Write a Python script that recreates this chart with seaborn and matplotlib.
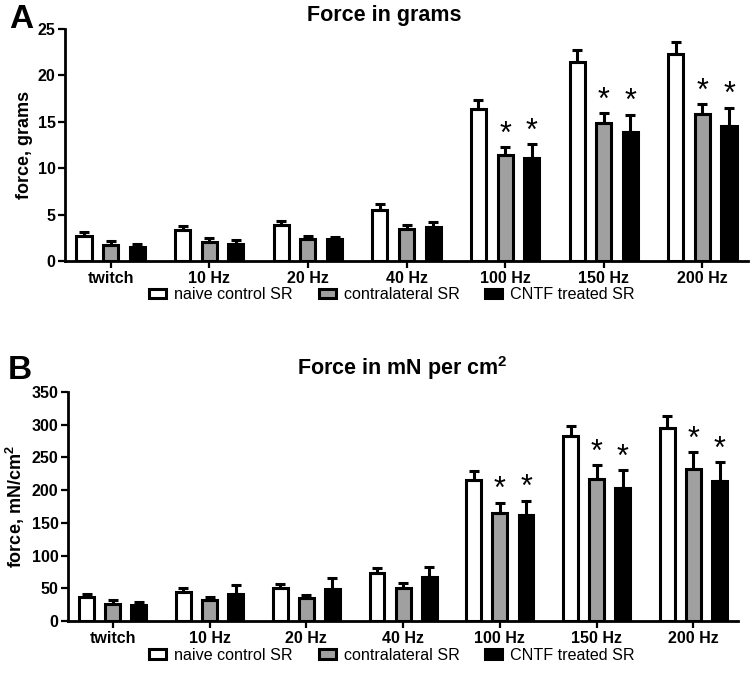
import pandas as pd
import seaborn as sns
import matplotlib.pyplot as plt

# Data (means and upper error bar tops)
freqs = ["twitch", "10 Hz", "20 Hz", "40 Hz", "100 Hz", "150 Hz", "200 Hz"]
groups = ["naive control SR", "contralateral SR", "CNTF treated SR"]

grams_naive = [2.76, 3.41, 3.91, 5.53, 16.41, 21.44, 22.23]
grams_contra = [1.76, 2.11, 2.44, 3.51, 11.38, 14.83, 15.80]
grams_cntf = [1.51, 1.90, 2.37, 3.66, 11.13, 13.90, 14.55]
grams_naive_err = [0.43, 0.43, 0.47, 0.64, 0.97, 1.22, 1.37]
grams_contra_err = [0.43, 0.37, 0.29, 0.43, 0.86, 1.07, 1.12]
grams_cntf_err = [0.32, 0.36, 0.28, 0.54, 1.51, 1.87, 1.97]

mn_naive = [36.7, 44.4, 51.0, 73.0, 215.8, 282.0, 295.4]
mn_contra = [26.5, 31.6, 35.2, 51.0, 164.8, 216.8, 233.0]
mn_cntf = [24.0, 41.3, 49.4, 67.3, 162.2, 203.5, 214.3]
mn_naive_err = [5.1, 6.6, 6.1, 8.6, 13.2, 16.4, 17.3]
mn_contra_err = [5.5, 4.6, 5.1, 6.7, 16.2, 21.9, 24.6]
mn_cntf_err = [5.0, 13.3, 16.4, 15.8, 21.8, 27.5, 29.0]

# significance stars (group index, frequency index)
stars = [(1, 4), (2, 4), (1, 5), (2, 5), (1, 6), (2, 6)]

colors = ["white", "#a0a0a0", "black"]

plt.rcParams["font.family"] = ["Liberation Sans", "DejaVu Sans"]
plt.rcParams["mathtext.fontset"] = "custom"
plt.rcParams["mathtext.rm"] = "Liberation Sans"
plt.rcParams["mathtext.bf"] = "Liberation Sans:bold"


def make_long(a, b, c):
    rows = []
    for g, vals in zip(groups, [a, b, c]):
        for f, v in zip(freqs, vals):
            rows.append({"freq": f, "group": g, "force": v})
    return pd.DataFrame(rows)


def draw_panel(ax, df, errs, ylim, yticks, ylabel):
    sns.barplot(data=df, x="freq", y="force", hue="group", hue_order=groups,
                palette=colors, edgecolor="black", linewidth=2.2,
                width=0.81, gap=0.43, errorbar=None, legend=False, ax=ax)
    bars = list(ax.containers)
    for cont, err in zip(bars, errs):
        xs = [p.get_x() + p.get_width() / 2 for p in cont.patches]
        hs = [p.get_height() for p in cont.patches]
        ax.errorbar(xs, hs, yerr=[[0] * len(err), err], fmt="none",
                    ecolor="black", elinewidth=2.2, capsize=3.6,
                    capthick=2.2, zorder=1)
    for g, i in stars:
        p = bars[g].patches[i]
        ax.annotate("*", (p.get_x() + p.get_width() / 2,
                          p.get_height() + errs[g][i]),
                    xytext=(0, -2), textcoords="offset points",
                    ha="center", va="bottom", fontsize=22)
    ax.set_xlim(-0.46, 6.46)
    ax.set_ylim(*ylim)
    ax.set_yticks(yticks)
    ax.set_xlabel("")
    ax.set_ylabel(ylabel, fontsize=13, fontweight="bold", labelpad=3)
    sns.despine(ax=ax)
    for s in ["left", "bottom"]:
        ax.spines[s].set_linewidth(2)
    ax.tick_params(width=1.6, length=5, labelsize=11.5, pad=2)
    for lab in ax.get_xticklabels() + ax.get_yticklabels():
        lab.set_fontweight("bold")
    return bars


fig = plt.figure(figsize=(7.5, 6.84), dpi=100)
ax1 = fig.add_axes([0.087, 0.618, 0.91, 0.34])
ax2 = fig.add_axes([0.091, 0.092, 0.893, 0.335])

bars1 = draw_panel(ax1, make_long(grams_naive, grams_contra, grams_cntf),
                   [grams_naive_err, grams_contra_err, grams_cntf_err],
                   (0, 25), range(0, 26, 5), "force, grams")
bars2 = draw_panel(ax2, make_long(mn_naive, mn_contra, mn_cntf),
                   [mn_naive_err, mn_contra_err, mn_cntf_err],
                   (0, 350), range(0, 351, 50), "force, mN/cm$^\\mathbf{2}$")

fig.text(0.512, 0.978, "Force in grams", ha="center", va="center",
         fontsize=15.5, fontweight="bold")
fig.text(0.537, 0.462, "Force in mN per cm$^\\mathbf{2}$", ha="center",
         va="center", fontsize=15.5, fontweight="bold")
fig.text(0.012, 0.972, "A", ha="left", va="center", fontsize=24,
         fontweight="bold")
fig.text(0.010, 0.458, "B", ha="left", va="center", fontsize=24,
         fontweight="bold")

for bars, y in [(bars1, 0.569), (bars2, 0.042)]:
    fig.legend(bars, groups, loc="center", bbox_to_anchor=(0.523, y),
               ncol=3, frameon=False, fontsize=11.6, handlelength=1.05,
               handleheight=0.5, columnspacing=1.6, handletextpad=0.5)

fig.savefig("out.png", dpi=100)
